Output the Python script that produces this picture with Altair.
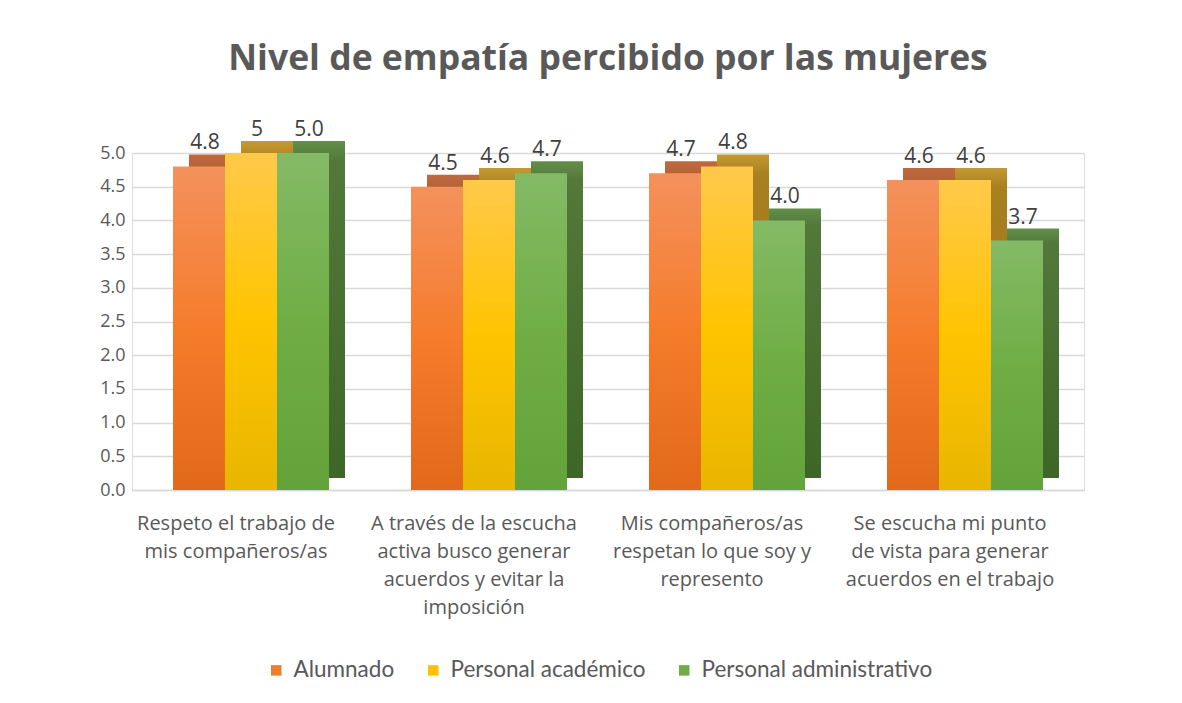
import altair as alt
import pandas as pd

# ---------------- data ----------------
categorias = [
    "Respeto el trabajo de\nmis compañeros/as",
    "A través de la escucha\nactiva busco generar\nacuerdos y evitar la\nimposición",
    "Mis compañeros/as\nrespetan lo que soy y\nrepresento",
    "Se escucha mi punto\nde vista para generar\nacuerdos en el trabajo",
]
series = ["Alumnado", "Personal académico", "Personal administrativo"]

alumnado = [4.8, 4.5, 4.7, 4.6]
academico = [5.0, 4.6, 4.8, 4.6]
administrativo = [5.0, 4.7, 4.0, 3.7]

etiquetas_alumnado = ["4.8", "4.5", "4.7", "4.6"]
etiquetas_academico = ["5", "4.6", "4.8", "4.6"]
etiquetas_administrativo = ["5.0", "4.7", "4.0", "3.7"]

valores = [alumnado, academico, administrativo]
etiquetas = [etiquetas_alumnado, etiquetas_academico, etiquetas_administrativo]

rows = []
for s, vals, labs in zip(series, valores, etiquetas):
    for c, v, l in zip(categorias, vals, labs):
        rows.append({"categoria": c, "serie": s, "valor": v, "etiqueta": l})
df = pd.DataFrame(rows)

# ---------------- styles ----------------
FONT = "Open Sans"
LEG_FONT = "Lato"
legend_colors = ["#ED7D31", "#FFC000", "#70AD47"]


def grad(stops):
    return alt.Gradient(
        gradient="linear",
        stops=[alt.GradientStop(color=c, offset=o) for o, c in stops],
        x1=0, x2=0, y1=0, y2=1,
    )


front_grads = [
    grad([(0, "#F4915C"), (0.5, "#F57C2B"), (1, "#E3691A")]),
    grad([(0, "#FFC94A"), (0.5, "#FFC400"), (1, "#E8B600")]),
    grad([(0, "#84BA66"), (0.5, "#70AE45"), (1, "#64A23A")]),
]
side_grads = [
    grad([(0, "#C0693E"), (0.06, "#B05F34"), (1, "#A0552C")]),
    grad([(0, "#C49A32"), (0.06, "#A98020"), (1, "#98731A")]),
    grad([(0, "#638F4A"), (0.06, "#52793A"), (1, "#3E6626")]),
]

BAR_W = 52
offsets = [-BAR_W, 0, BAR_W]
DEPTH_X = 16
DEPTH_Y = -12

x_enc = alt.X(
    "categoria:N",
    sort=categorias,
    scale=alt.Scale(paddingInner=0, paddingOuter=0),
    axis=alt.Axis(
        title=None,
        labelAngle=0,
        labelExpr="split(datum.label, '\\n')",
        labelFontSize=20,
        labelColor="#595959",
        labelFont=FONT,
        labelLineHeight=28,
        labelPadding=23,
        labelOffset=-15,
        labelBaseline="top",
        labelLimit=0,
        ticks=False,
        domain=True,
        domainColor="#D9D9D9",
        domainWidth=1.5,
        grid=False,
    ),
)
y_enc = alt.Y(
    "valor:Q",
    scale=alt.Scale(domain=[0, 5], nice=False),
    axis=alt.Axis(
        title=None,
        values=[0, 0.5, 1, 1.5, 2, 2.5, 3, 3.5, 4, 4.5, 5],
        format=".1f",
        labelFontSize=18,
        labelColor="#595959",
        labelFont=FONT,
        labelPadding=7,
        ticks=False,
        domain=False,
        grid=True,
        gridColor="#D9D9D9",
        gridWidth=1.5,
    ),
)

base = alt.Chart(df).encode(x=x_enc, y=y_enc)

layers = []
# side / top faces (behind)
for s, off, g in zip(series, offsets, side_grads):
    layers.append(
        base.transform_filter(alt.datum.serie == s).mark_bar(
            width=BAR_W, xOffset=off + DEPTH_X, yOffset=DEPTH_Y, color=g
        )
    )
# front faces
for s, off, g in zip(series, offsets, front_grads):
    layers.append(
        base.transform_filter(alt.datum.serie == s).mark_bar(
            width=BAR_W, xOffset=off, color=g
        )
    )
# value labels
for s, off in zip(series, offsets):
    layers.append(
        base.transform_filter(alt.datum.serie == s)
        .mark_text(
            dx=off + 6, dy=DEPTH_Y - 1, baseline="bottom", fontSize=21,
            font=FONT, color="#404040",
        )
        .encode(text="etiqueta:N")
    )
# legend carrier
layers.append(
    base.mark_square(opacity=0, size=1).encode(
        color=alt.Color(
            "serie:N",
            sort=series,
            scale=alt.Scale(domain=series, range=legend_colors),
            legend=alt.Legend(
                title=None,
                orient="none",
                direction="horizontal",
                legendX=133,
                legendY=506,
                symbolType="square",
                symbolOpacity=1,
                symbolSize=110,
                symbolStrokeWidth=0,
                labelFontSize=22.5,
                labelFont=LEG_FONT,
                labelColor="#595959",
                labelLimit=0,
                columnPadding=27,
                labelOffset=6,
            ),
        )
    )
)

chart = (
    alt.layer(*layers)
    .properties(
        width=952,
        height=337,
        title=alt.TitleParams(
            "Nivel de empatía percibido por las mujeres",
            fontSize=35.5,
            fontWeight="bold",
            font=FONT,
            color="#595959",
            anchor="middle",
            offset=42,
        ),
        padding={"left": 91, "top": 33, "right": 10, "bottom": 5},
    )
    .configure_view(stroke=None)
    .configure(background="white")
)

chart.save("out.html", embed_options={"renderer": "svg", "actions": False})
